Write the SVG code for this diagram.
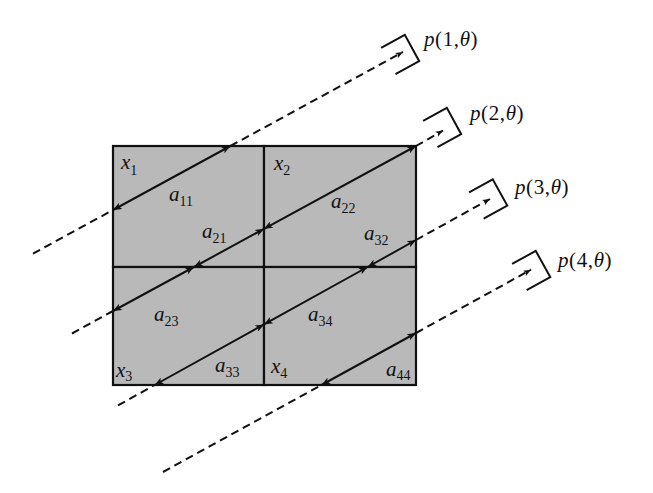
<svg xmlns="http://www.w3.org/2000/svg" width="653" height="493" viewBox="0 0 653 493">
<style>
.cell{fill:#b9b9b9;stroke:#111;stroke-width:2.2}
.ray{stroke:#111;stroke-width:2;fill:none;marker-start:url(#ah);marker-end:url(#ah)}
.dash{stroke:#111;stroke-width:2;fill:none;stroke-dasharray:8 5}
.dashA{marker-end:url(#dh)}
.brk{stroke:#111;stroke-width:2;fill:none}
text{font-family:"Liberation Serif","Times New Roman",serif;fill:#111}
.v{font-style:italic;font-size:21px}
.s{font-size:14px}
.p{font-size:21px;letter-spacing:0.6px}
.i{font-style:italic}
</style>
<defs>
<marker id="ah" viewBox="0 0 10 8" refX="10" refY="4" markerWidth="10" markerHeight="7" markerUnits="userSpaceOnUse" orient="auto-start-reverse"><path d="M0,0 L10,4 L0,8 L2.5,4 z" fill="#111"/></marker>
<marker id="dh" viewBox="0 0 10 8" refX="10" refY="4" markerWidth="9" markerHeight="6" markerUnits="userSpaceOnUse" orient="auto"><path d="M0,0 L10,4 L0,8 L2.5,4 z" fill="#111"/></marker>
<path id="bk" d="M-27,-15 L0,-15 L0,15 L-27,15"/>
</defs>
<rect width="653" height="493" fill="#ffffff"/>
<g id="cell-x1">
<rect class="cell" x="113" y="146" width="151" height="121"/>
<text x="121" y="169"><tspan class="v">x</tspan><tspan class="s" dy="6">1</tspan></text>
</g>
<g id="cell-x2">
<rect class="cell" x="264" y="146" width="152" height="121"/>
<text x="274" y="170"><tspan class="v">x</tspan><tspan class="s" dy="5">2</tspan></text>
</g>
<g id="cell-x3">
<rect class="cell" x="113" y="267" width="151" height="118"/>
<text x="116" y="377"><tspan class="v">x</tspan><tspan class="s" dy="4">3</tspan></text>
</g>
<g id="cell-x4">
<rect class="cell" x="264" y="267" width="152" height="118"/>
<text x="271" y="373"><tspan class="v">x</tspan><tspan class="s" dy="5">4</tspan></text>
</g>
<g id="connectors">
<line class="dash" x1="33" y1="253.6" x2="113" y2="210"/>
<line class="ray" x1="113" y1="210" x2="230.4" y2="146"/>
<line class="dash dashA" x1="230.4" y1="146" x2="403" y2="52"/>
<line class="dash" x1="72" y1="333.5" x2="113" y2="311"/>
<line class="ray" x1="113" y1="311" x2="194" y2="267"/>
<line class="ray" x1="194" y1="267" x2="264" y2="228.8"/>
<line class="ray" x1="264" y1="228.8" x2="416" y2="146"/>
<line class="dash dashA" x1="416" y1="146" x2="443" y2="130.5"/>
<line class="dash" x1="118" y1="405.4" x2="154.7" y2="385"/>
<line class="ray" x1="154.7" y1="385" x2="264" y2="324.4"/>
<line class="ray" x1="264" y1="324.4" x2="367.6" y2="267"/>
<line class="ray" x1="367.6" y1="267" x2="416" y2="240"/>
<line class="dash dashA" x1="416" y1="240" x2="490" y2="199"/>
<line class="dash" x1="163" y1="472" x2="321.5" y2="385"/>
<line class="ray" x1="321.5" y1="385" x2="416" y2="333"/>
<line class="dash dashA" x1="416" y1="333" x2="531" y2="269.7"/>
</g>
<g id="labels-a">
<text x="169" y="201"><tspan class="v">a</tspan><tspan class="s" dy="5">11</tspan></text>
<text x="202" y="238"><tspan class="v">a</tspan><tspan class="s" dy="5">21</tspan></text>
<text x="331" y="208"><tspan class="v">a</tspan><tspan class="s" dy="5">22</tspan></text>
<text x="364" y="240"><tspan class="v">a</tspan><tspan class="s" dy="5">32</tspan></text>
<text x="154" y="321"><tspan class="v">a</tspan><tspan class="s" dy="5">23</tspan></text>
<text x="215" y="372"><tspan class="v">a</tspan><tspan class="s" dy="5">33</tspan></text>
<text x="308" y="321"><tspan class="v">a</tspan><tspan class="s" dy="5">34</tspan></text>
<text x="386" y="376"><tspan class="v">a</tspan><tspan class="s" dy="4">44</tspan></text>
</g>
<g id="detector-1">
<use href="#bk" class="brk" transform="translate(412,48) rotate(-28.6)"/>
<text class="p" x="424" y="46"><tspan class="i">p</tspan>(1,<tspan class="i">θ</tspan>)</text>
</g>
<g id="detector-2">
<use href="#bk" class="brk" transform="translate(454,121) rotate(-28.6)"/>
<text class="p" x="470" y="120"><tspan class="i">p</tspan>(2,<tspan class="i">θ</tspan>)</text>
</g>
<g id="detector-3">
<use href="#bk" class="brk" transform="translate(500,192.5) rotate(-29)"/>
<text class="p" x="515" y="194"><tspan class="i">p</tspan>(3,<tspan class="i">θ</tspan>)</text>
</g>
<g id="detector-4">
<use href="#bk" class="brk" transform="translate(543,264) rotate(-29)"/>
<text class="p" x="558" y="267"><tspan class="i">p</tspan>(4,<tspan class="i">θ</tspan>)</text>
</g>
</svg>
